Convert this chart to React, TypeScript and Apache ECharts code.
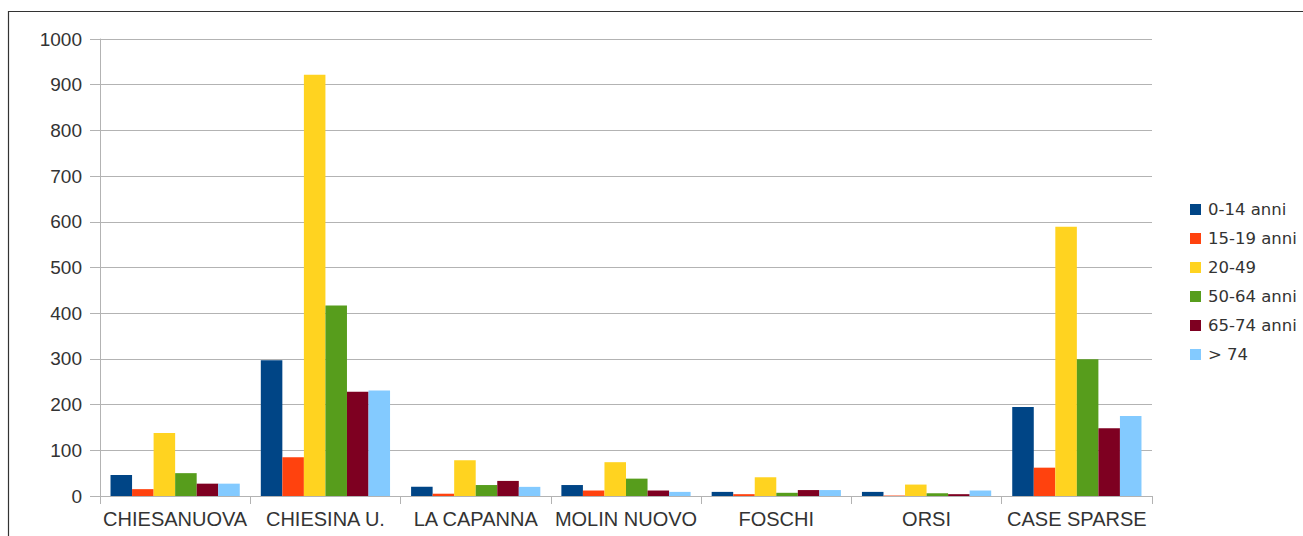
import React, { useEffect, useRef } from "react";
import * as echarts from "echarts";

const categories = ["CHIESANUOVA", "CHIESINA U.", "LA CAPANNA", "MOLIN NUOVO", "FOSCHI", "ORSI", "CASE SPARSE"];
const seriesNames = ["0-14 anni", "15-19 anni", "20-49", "50-64 anni", "65-74 anni", "> 74"];
const age0_14 = [46, 297, 20, 24, 9, 9, 195];
const age15_19 = [15, 85, 5, 12, 4, 1, 62];
const age20_49 = [138, 922, 78, 74, 41, 25, 589];
const age50_64 = [50, 417, 24, 38, 7, 6, 299];
const age65_74 = [27, 228, 33, 12, 13, 4, 148];
const ageOver74 = [27, 231, 20, 9, 13, 12, 175];
const seriesValues = [age0_14, age15_19, age20_49, age50_64, age65_74, ageOver74];
const colors = ["#004586", "#ff420e", "#ffd320", "#579d1c", "#7e0021", "#83caff"];

export default function App() {
  const ref = useRef<HTMLDivElement>(null);
  useEffect(() => {
    if (!ref.current) return;
    const chart = echarts.init(ref.current, null, { renderer: "svg" });
    chart.setOption({
      animation: false,
      backgroundColor: "#ffffff",
      color: colors,
      grid: { left: 100, right: 151, top: 39, bottom: 40, containLabel: false },
      legend: {
        orient: "vertical",
        left: 1185,
        top: 196,
        icon: "rect",
        itemWidth: 11,
        itemHeight: 11,
        itemGap: 12,
        textStyle: {
          fontFamily: "DejaVu Sans",
          fontSize: 16.5,
          color: "#333333",
          padding: [0, 0, 0, 2],
        },
        data: seriesNames,
      },
      xAxis: {
        type: "category",
        data: categories,
        axisLine: { show: true, lineStyle: { color: "#b3b3b3", width: 1 } },
        axisTick: { show: true, length: 8, lineStyle: { color: "#b3b3b3" }, alignWithLabel: false, interval: 0 },
        axisLabel: {
          interval: 0,
          hideOverlap: false,
          fontFamily: "Liberation Sans",
          fontSize: 20,
          color: "#333333",
          margin: 13,
        },
        splitLine: { show: false },
      },
      yAxis: {
        type: "value",
        min: 0,
        max: 1000,
        interval: 100,
        axisLine: { show: true, lineStyle: { color: "#b3b3b3", width: 1 } },
        axisTick: { show: true, length: 10, lineStyle: { color: "#b3b3b3" } },
        axisLabel: {
          fontFamily: "Liberation Sans",
          fontSize: 19,
          color: "#333333",
          margin: 18,
          formatter: (v: number) => String(v),
        },
        splitLine: { show: true, lineStyle: { color: "#b3b3b3", width: 1 } },
      },
      series: seriesNames.map((name, i) => ({
        name,
        type: "bar",
        data: seriesValues[i],
        barGap: "0%",
        barCategoryGap: "14%",
        itemStyle: { color: colors[i] },
      })),
      graphic: [
        {
          type: "rect",
          silent: true,
          shape: { x: 8.5, y: 11.5, width: 1400, height: 600 },
          style: { fill: "none", stroke: "#333333", lineWidth: 1.2 },
        },
      ],
    });
    return () => chart.dispose();
  }, []);
  return (
    <div
      ref={ref}
      style={{ position: "fixed", left: 0, top: 0, width: 1303, height: 536 }}
    />
  );
}
